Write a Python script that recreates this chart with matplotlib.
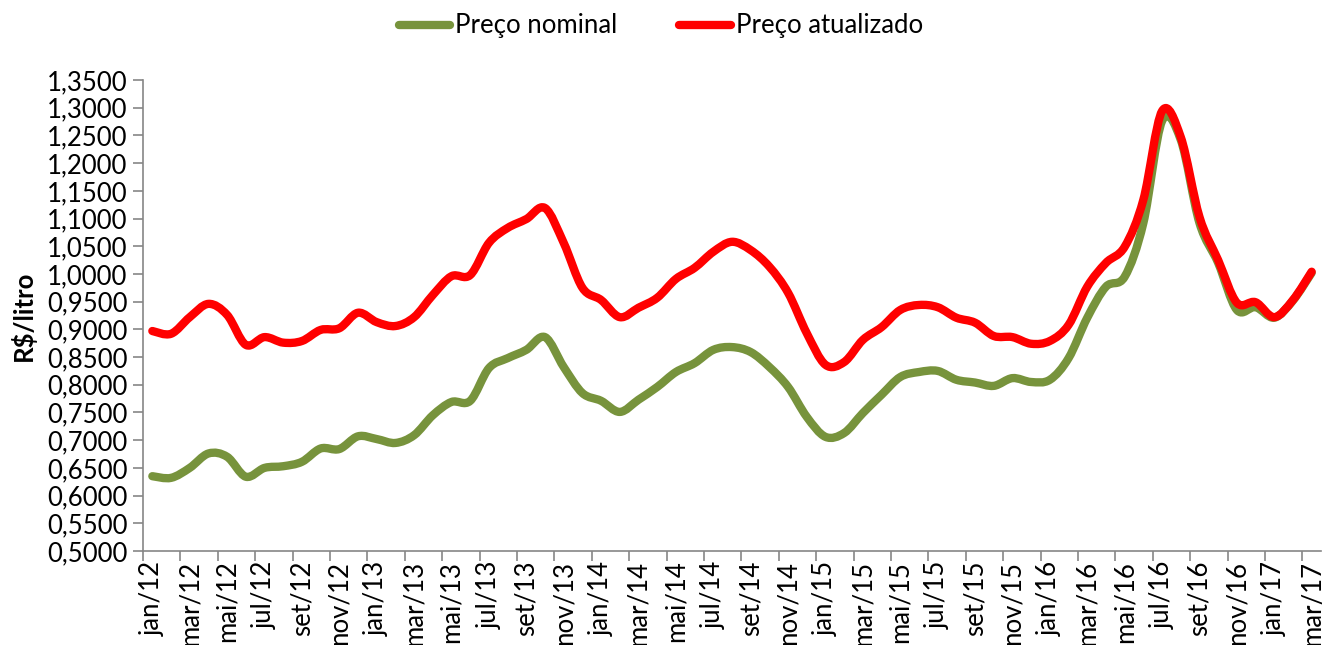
import matplotlib
matplotlib.use("Agg")
import matplotlib.pyplot as plt
from matplotlib.path import Path
from matplotlib.patches import PathPatch
from matplotlib.lines import Line2D
import matplotlib.ticker as ticker
import numpy as np

plt.rcParams["font.family"] = ["Lato", "DejaVu Sans"]

# ─── Data (monthly, jan/12 .. mar/17) ────────────────────────────────────────
MONTHS = ["jan", "fev", "mar", "abr", "mai", "jun",
          "jul", "ago", "set", "out", "nov", "dez"]
LABELS = [f"{MONTHS[i % 12]}/{12 + i // 12}" for i in range(63)]

nominal = [
    0.635, 0.632, 0.650, 0.676, 0.670, 0.634, 0.650, 0.653, 0.661, 0.685,
    0.684, 0.707, 0.702, 0.695, 0.709, 0.745, 0.769, 0.771, 0.830, 0.848,
    0.863, 0.886, 0.832, 0.785, 0.771, 0.751, 0.773, 0.796, 0.823, 0.839,
    0.863, 0.868, 0.859, 0.832, 0.796, 0.742, 0.706, 0.713, 0.749, 0.782,
    0.814, 0.823, 0.825, 0.809, 0.804, 0.798, 0.812, 0.805, 0.809, 0.848,
    0.921, 0.977, 0.995, 1.092, 1.276, 1.242, 1.092, 1.020, 0.935, 0.940,
    0.921, 0.952, 1.002,
]
atualizado = [
    0.897, 0.892, 0.922, 0.946, 0.926, 0.872, 0.886, 0.876, 0.879, 0.899,
    0.902, 0.930, 0.913, 0.906, 0.922, 0.962, 0.996, 0.998, 1.056, 1.083,
    1.099, 1.119, 1.056, 0.975, 0.953, 0.922, 0.939, 0.957, 0.991, 1.011,
    1.040, 1.058, 1.043, 1.013, 0.966, 0.893, 0.836, 0.841, 0.881, 0.904,
    0.935, 0.944, 0.940, 0.921, 0.912, 0.888, 0.886, 0.874, 0.879, 0.908,
    0.977, 1.020, 1.049, 1.134, 1.294, 1.247, 1.103, 1.025, 0.948, 0.949,
    0.922, 0.953, 1.004,
]

GREEN = "#77933C"
RED = "#FF0000"
AXIS_GREY = "#868686"
FS = 18.5


def smooth_path(xs, ys):
    """Excel-like smoothed line: Catmull-Rom segments as cubic Beziers."""
    pts = np.column_stack([xs, ys]).astype(float)
    verts = [pts[0]]
    codes = [Path.MOVETO]
    n = len(pts)
    for i in range(n - 1):
        p0 = pts[i - 1] if i > 0 else pts[i]
        p1, p2 = pts[i], pts[i + 1]
        p3 = pts[i + 2] if i + 2 < n else pts[i + 1]
        c1 = p1 + (p2 - p0) / 6.0
        c2 = p2 - (p3 - p1) / 6.0
        verts += [c1, c2, p2]
        codes += [Path.CURVE4] * 3
    return Path(verts, codes)


fig = plt.figure(figsize=(13.22, 6.45), dpi=100)
ax = fig.add_axes([143 / 1322, 94 / 645, 1178 / 1322, 471 / 645])

x = np.arange(len(LABELS))
for ys, col, z in [(nominal, GREEN, 2), (atualizado, RED, 3)]:
    patch = PathPatch(smooth_path(x, ys), fill=False, edgecolor=col, lw=6.0,
                      capstyle="round", joinstyle="round", zorder=z)
    ax.add_patch(patch)

ax.set_xlim(-0.5, len(LABELS) - 0.5)
ax.set_ylim(0.5, 1.35)

# y axis
ax.yaxis.set_major_locator(ticker.MultipleLocator(0.05))
ax.yaxis.set_major_formatter(
    ticker.FuncFormatter(lambda v, p: f"{v:.4f}".replace(".", ",")))
ax.tick_params(axis="y", direction="out", length=7, width=1.2,
               color=AXIS_GREY, labelsize=FS, pad=4)
ax.set_ylabel("R$/litro", fontsize=FS, fontweight="bold", labelpad=8)

# x axis: ticks at category boundaries, labels at category centres
ax.xaxis.set_major_locator(ticker.FixedLocator(np.arange(-0.5, len(LABELS) - 1, 2)))
ax.xaxis.set_major_formatter(ticker.NullFormatter())
ax.xaxis.set_minor_locator(ticker.FixedLocator(x[::2]))
ax.xaxis.set_minor_formatter(ticker.FixedFormatter(LABELS[::2]))
ax.tick_params(axis="x", which="major", direction="out", length=7, width=1.2,
               color=AXIS_GREY)
ax.tick_params(axis="x", which="minor", length=0, labelsize=FS, pad=7,
               labelrotation=90)
for lab in ax.xaxis.get_minorticklabels():
    lab.set_verticalalignment("top")

for side in ("top", "right"):
    ax.spines[side].set_visible(False)
for side in ("left", "bottom"):
    ax.spines[side].set_color(AXIS_GREY)
    ax.spines[side].set_linewidth(1.2)

handles = [Line2D([], [], color=GREEN, lw=6.0, solid_capstyle="round"),
           Line2D([], [], color=RED, lw=6.0, solid_capstyle="round")]
fig.legend(handles, ["Preço nominal", "Preço atualizado"], loc="center",
           bbox_to_anchor=(0.5, 1 - 26 / 645), ncol=2, frameon=False,
           fontsize=FS, handlelength=2.0, handletextpad=0.2,
           columnspacing=2.4)

fig.savefig("out.png", dpi=100)
